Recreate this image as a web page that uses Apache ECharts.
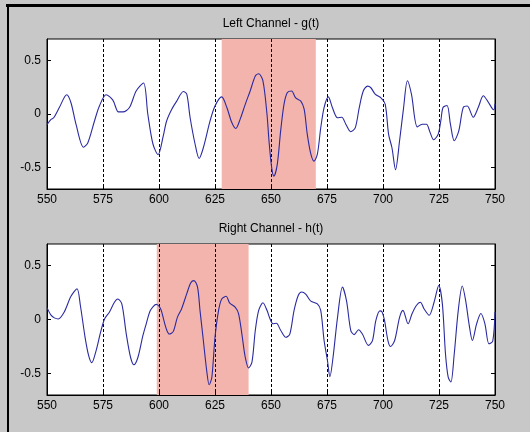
<!DOCTYPE html>
<html><head><meta charset="utf-8">
<script src="https://cdn.jsdelivr.net/npm/echarts@6/dist/echarts.min.js"></script>
<style>html,body{margin:0;padding:0;background:#c8c8c8}#c{width:530px;height:432px}</style>
</head><body><div id="c"></div>
<script>
// ---- data ----
const xTicks = [550, 575, 600, 625, 650, 675, 700, 725, 750];
const yTicks = [-0.5, 0, 0.5];
const titles = ['Left Channel - g(t)', 'Right Channel - h(t)'];
const leftShade = [628, 670];
const rightShade = [599, 640];

const gX = [550,551.8,553,555.5,558.8,560.7,563,566.3,568.2,571.2,573.4,576.4,579.4,581.9,583.9,586.8,589.8,593.1,595,597.3,599.6,601.9,603.4,605.7,607.9,610.9,612.4,613.9,616.1,617.9,619.8,622.8,625,628,630.3,632.5,634.3,636.2,638.5,640.7,643,644.5,646.4,648.2,649.1,650.3,651.3,652.8,654.3,655.8,657.3,659.2,661,663.3,664.8,666.2,667.8,669.2,670.7,672.2,673.7,675.6,677.4,679.7,681.6,683.4,685.6,687.6,689.4,691.2,693.1,694.6,696.5,699.1,701,702.5,704,705.6,707.4,709.2,710.9,712.7,715.3,717.5,719.4,720.9,722.6,724.6,725.8,726.8,728.6,730.1,731.8,733.8,735.8,737.6,740.3,742.5,744.8,746.7,748.8,749.5,750];
const gY = [-0.10,-0.05,-0.035,0.06,0.18,0.105,-0.10,-0.31,-0.27,-0.065,0.075,0.18,0.13,0.02,0.02,0.06,0.215,0.29,0.0,-0.28,-0.38,-0.205,-0.065,0.045,0.12,0.21,0.185,-0.035,-0.28,-0.415,-0.315,-0.065,0.075,0.16,0.06,-0.08,-0.135,-0.05,0.09,0.215,0.355,0.375,0.31,0.0,-0.25,-0.5,-0.58,-0.47,-0.16,0.09,0.2,0.215,0.15,0.12,0.045,-0.19,-0.375,-0.44,-0.375,-0.13,0.06,0.16,0.06,-0.035,-0.03,-0.095,-0.165,-0.13,0.06,0.215,0.26,0.245,0.185,0.15,0.09,-0.19,-0.315,-0.52,-0.25,0.06,0.31,0.185,-0.12,-0.095,-0.095,-0.165,-0.24,-0.19,-0.065,0.06,0.08,-0.095,-0.25,-0.16,0.06,0.075,-0.03,0.06,0.17,0.12,0.05,0.04,0.095];

const hX = [550,551.8,553.3,555,557.7,560.7,563.4,564.9,567,568.6,570,571.9,573.9,575.7,577.9,580.1,581.6,583.4,585.4,587.3,588.8,590.6,592.8,594.3,596.2,598.8,600.7,602.2,603.4,604.6,606.4,608.2,610.1,612.4,614.2,615.6,617.2,618.3,619.8,621.3,622.4,623.6,625,626.6,628,630,631.5,634,635.5,637,638.5,640,641.5,643,644.5,646.4,648.2,649.5,650.9,652.4,654.3,656.6,658.4,660.3,662.2,663.7,665.5,667.8,670.7,672.2,673.7,675.2,676.3,677.7,679.7,681.9,683.7,685.6,687.1,689.1,690.8,693.5,695.3,696.8,698.6,699.6,700.7,702.2,703.4,705.2,707.4,708.9,711.2,713,714.9,716.7,718.3,720.6,722.8,724.9,726.5,727.9,729.1,730.3,731.8,733.6,735.4,736.9,738.4,739.9,741.8,743.7,745.5,747.3,749,750];
const hY = [0.11,0.04,0.015,0.005,0.07,0.215,0.285,0.13,-0.165,-0.335,-0.40,-0.29,-0.12,0.005,0.07,0.16,0.19,0.145,-0.135,-0.35,-0.42,-0.35,-0.15,-0.04,0.085,0.14,0.10,-0.01,-0.095,-0.135,-0.11,0.02,0.10,0.24,0.34,0.36,0.30,0.085,-0.195,-0.475,-0.605,-0.535,-0.165,0.085,0.19,0.215,0.155,0.115,0.055,-0.135,-0.35,-0.45,-0.395,-0.10,0.085,0.155,0.085,0.01,-0.04,-0.035,-0.10,-0.165,-0.135,0.085,0.225,0.255,0.235,0.17,0.145,0.085,-0.195,-0.38,-0.53,-0.35,0.02,0.30,0.175,-0.10,-0.14,-0.095,-0.135,-0.24,-0.195,-0.01,0.08,0.07,-0.01,-0.195,-0.25,-0.195,0.02,0.085,-0.04,0.055,0.13,0.16,0.10,0.04,0.16,0.315,0.145,-0.32,-0.535,-0.58,-0.32,0.085,0.31,0.175,-0.04,-0.195,-0.04,0.055,-0.04,-0.225,-0.2,0.07];

// ---- chart ----
const FONT = 'Liberation Sans, Arial, sans-serif';
const zip = (a, b) => a.map((v, i) => [v, b[i]]);
const grids = [
  {left: 47, top: 39, width: 448, height: 150},
  {left: 47, top: 244, width: 448, height: 151}
];
function xAx(i) {
  return {
    type: 'value', gridIndex: i, min: xTicks[0], max: xTicks[xTicks.length - 1], interval: 25, z: 1.5,
    axisLine: {onZero: false, lineStyle: {color: '#000', width: 1}},
    axisTick: {inside: true, length: 4, lineStyle: {color: '#000'}},
    axisLabel: {color: '#000', fontSize: 12, fontFamily: FONT, margin: 5},
    splitLine: {show: true, lineStyle: {color: '#000', type: [3, 2], width: 1}}
  };
}
function yAx(i, pos) {
  return {
    type: 'value', gridIndex: i, min: -0.7, max: 0.7, position: pos,
    axisLine: {show: true, onZero: false, lineStyle: {color: '#000', width: 1}},
    axisTick: {inside: true, length: 4, customValues: yTicks, lineStyle: {color: '#000'}},
    axisLabel: {show: pos === 'left', customValues: yTicks, color: '#000', fontSize: 12, fontFamily: FONT, margin: 6},
    splitLine: {show: false}
  };
}
function ser(i, data, shade) {
  return {
    type: 'line', xAxisIndex: i, yAxisIndex: i * 2, data: data, showSymbol: false, smooth: 0.3,
    lineStyle: {color: '#2a2aa0', width: 1.1}, animation: false,
    markArea: {silent: true, itemStyle: {color: '#f2b4ad'}, data: [[{xAxis: shade[0]}, {xAxis: shade[1]}]]}
  };
}
const chart = echarts.init(document.getElementById('c'));
chart.setOption({
  animation: false,
  backgroundColor: '#c8c8c8',
  title: titles.map((t, i) => ({
    text: t, left: 271, textAlign: 'center', top: i === 0 ? 18 : 223, padding: 0,
    textStyle: {fontSize: 12, fontWeight: 'normal', color: '#000', fontFamily: FONT}
  })),
  grid: grids.map(g => Object.assign({show: true, backgroundColor: '#fff', borderColor: '#000', borderWidth: 1}, g)),
  xAxis: [xAx(0), xAx(1)],
  yAxis: [yAx(0, 'left'), yAx(0, 'right'), yAx(1, 'left'), yAx(1, 'right')],
  series: [ser(0, zip(gX, gY), leftShade), ser(1, zip(hX, hY), rightShade)],
  graphic: [
    {type: 'rect', shape: {x: 6, y: 4, width: 524, height: 3}, style: {fill: '#000'}},
    {type: 'rect', shape: {x: 7, y: 4, width: 2, height: 428}, style: {fill: '#000'}}
  ]
});
</script></body></html>
